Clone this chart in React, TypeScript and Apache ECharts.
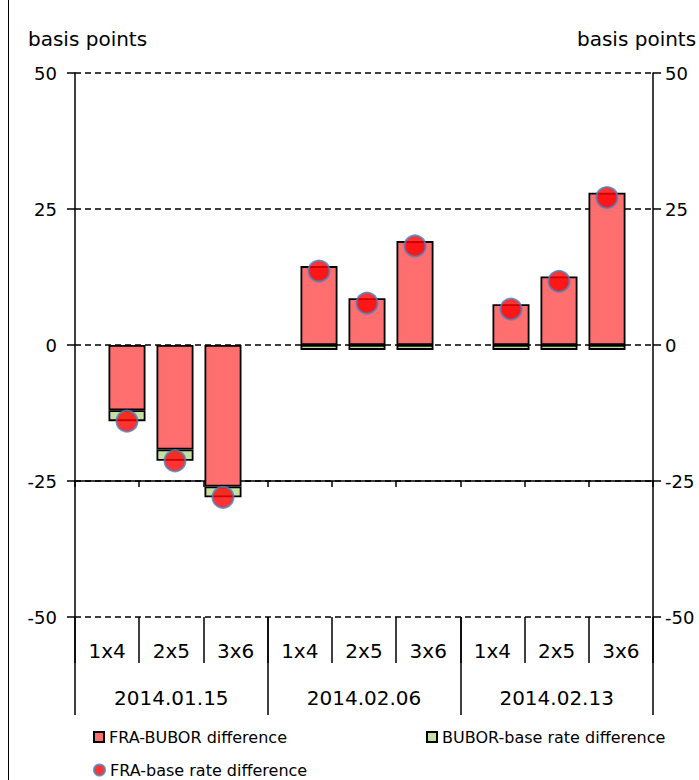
import React, { useEffect, useRef } from "react";
import * as echarts from "echarts";

const groups = ["2014.01.15", "2014.02.06", "2014.02.13"];
const tenors = ["1x4", "2x5", "3x6"];
const fraBubor = [-12, -19.2, -26, 14.5, 8.6, 19.1, 7.5, 12.6, 28.0];
const buborBase = [-2, -2.1, -2, -0.9, -0.9, -0.9, -0.9, -0.9, -0.9];
const fraBase = [-14, -21.3, -28, 13.6, 7.7, 18.2, 6.6, 11.7, 27.1];
const yMin = -50;
const yMax = 50;
const yStep = 25;

const FONT = "DejaVu Sans";

export default function App() {
  const ref = useRef<HTMLDivElement>(null);
  useEffect(() => {
    document.body.style.margin = "0";
    const chart = echarts.init(ref.current!, null, { renderer: "svg" });
    const tenorLabels = groups.flatMap(() => tenors);
    // bar slots: the three groups separated by one empty slot
    const slotCats: string[] = [];
    const slotIdx: number[] = [];
    groups.forEach((g, gi) => {
      if (gi > 0) slotCats.push("gap" + gi);
      tenors.forEach((t) => {
        slotIdx.push(slotCats.length);
        slotCats.push(g + " " + t);
      });
    });
    const toSlots = (arr: number[]) => {
      const out: any[] = slotCats.map(() => "-");
      arr.forEach((v, i) => (out[slotIdx[i]] = v));
      return out;
    };
    const black = "#000";
    const option: any = {
      animation: false,
      backgroundColor: "#fff",
      textStyle: { fontFamily: FONT },
      title: [
        { text: "basis points", left: 28, top: 29, padding: 0, textStyle: { fontSize: 20, fontWeight: "normal", color: black, fontFamily: FONT } },
        { text: "basis points", left: 577, top: 29, padding: 0, textStyle: { fontSize: 20, fontWeight: "normal", color: black, fontFamily: FONT } },
      ],
      legend: [
        { data: ["FRA-BUBOR difference"], left: 88, top: 724, icon: "rect", itemWidth: 10, itemHeight: 10, textStyle: { fontSize: 16, color: black, fontFamily: FONT } },
        { data: ["BUBOR-base rate difference"], left: 421, top: 724, icon: "rect", itemWidth: 10, itemHeight: 10, textStyle: { fontSize: 16, color: black, fontFamily: FONT } },
        { data: ["FRA-base rate difference"], left: 88, top: 757, itemWidth: 11, itemHeight: 11, textStyle: { fontSize: 16, color: black, fontFamily: FONT } },
      ],
      graphic: [
        { type: "line", shape: { x1: 8.5, y1: 0, x2: 8.5, y2: 780 }, style: { stroke: black, lineWidth: 1 } },
      ],
      grid: [
        { left: 75, right: 46, top: 73, bottom: 163 },
        { left: 75, right: 46, top: 73, bottom: 299 },
        { left: 103, right: 68, top: 73, bottom: 163 },
      ],
      xAxis: [
        {
          type: "category", gridIndex: 0, position: "bottom", data: tenorLabels,
          axisLine: { show: false, onZero: false },
          axisTick: { show: true, interval: 0, length: 46, lineStyle: { color: black, width: 1.5 } },
          axisLabel: { interval: 0, margin: 24, fontSize: 20, color: black, fontFamily: FONT },
          splitLine: { show: false },
        },
        {
          type: "category", gridIndex: 0, position: "bottom", data: groups,
          axisLine: { show: false, onZero: false },
          axisTick: { show: true, interval: 0, length: 98, lineStyle: { color: black, width: 1.5 } },
          axisLabel: { interval: 0, margin: 71, fontSize: 20, color: black, fontFamily: FONT },
          splitLine: { show: false },
        },
        {
          type: "category", gridIndex: 1, position: "bottom", data: tenorLabels,
          axisLine: { show: true, onZero: false, lineStyle: { color: black, width: 1.5 } },
          axisTick: { show: true, interval: 0, length: 6, lineStyle: { color: black, width: 1.5 } },
          axisLabel: { show: false },
          splitLine: { show: false },
        },
        { type: "category", gridIndex: 2, data: slotCats, show: false },
      ],
      yAxis: [
        {
          type: "value", gridIndex: 0, position: "left", min: yMin, max: yMax, interval: yStep,
          axisLine: { show: true, onZero: false, lineStyle: { color: black, width: 1.5 } },
          axisTick: { show: true, length: 8, lineStyle: { color: black, width: 1.5 } },
          axisLabel: { margin: 18, fontSize: 18, color: black, fontFamily: FONT },
          splitLine: { show: true, lineStyle: { color: black, width: 1.5, type: [6, 4] } },
        },
        {
          type: "value", gridIndex: 0, position: "right", min: yMin, max: yMax, interval: yStep,
          axisLine: { show: true, onZero: false, lineStyle: { color: black, width: 1.5 } },
          axisTick: { show: true, length: 8, lineStyle: { color: black, width: 1.5 } },
          axisLabel: { margin: 12, fontSize: 18, color: black, fontFamily: FONT },
          splitLine: { show: false },
        },
        { type: "value", gridIndex: 1, min: 0, max: 1, show: false },
        { type: "value", gridIndex: 2, min: yMin, max: yMax, interval: yStep, show: false },
      ],
      series: [
        {
          name: "FRA-BUBOR difference", type: "bar", xAxisIndex: 3, yAxisIndex: 3, stack: "s", barWidth: 37,
          itemStyle: { color: "#FF6F6F", borderColor: black, borderWidth: 1.8 },
          data: toSlots(fraBubor),
        },
        {
          name: "BUBOR-base rate difference", type: "bar", xAxisIndex: 3, yAxisIndex: 3, stack: "s", barWidth: 37,
          itemStyle: { color: "#C6E0A4", borderColor: black, borderWidth: 1.8 },
          data: toSlots(buborBase),
        },
        {
          name: "FRA-base rate difference", type: "scatter", xAxisIndex: 3, yAxisIndex: 3, z: 5,
          symbol: "circle", symbolSize: 21,
          itemStyle: { color: "#FF0000", borderColor: "#4F81BD", borderWidth: 2 },
          data: toSlots(fraBase),
        },
      ],
    };
    chart.setOption(option);
    return () => chart.dispose();
  }, []);
  return <div ref={ref} style={{ width: 699, height: 780 }} />;
}
